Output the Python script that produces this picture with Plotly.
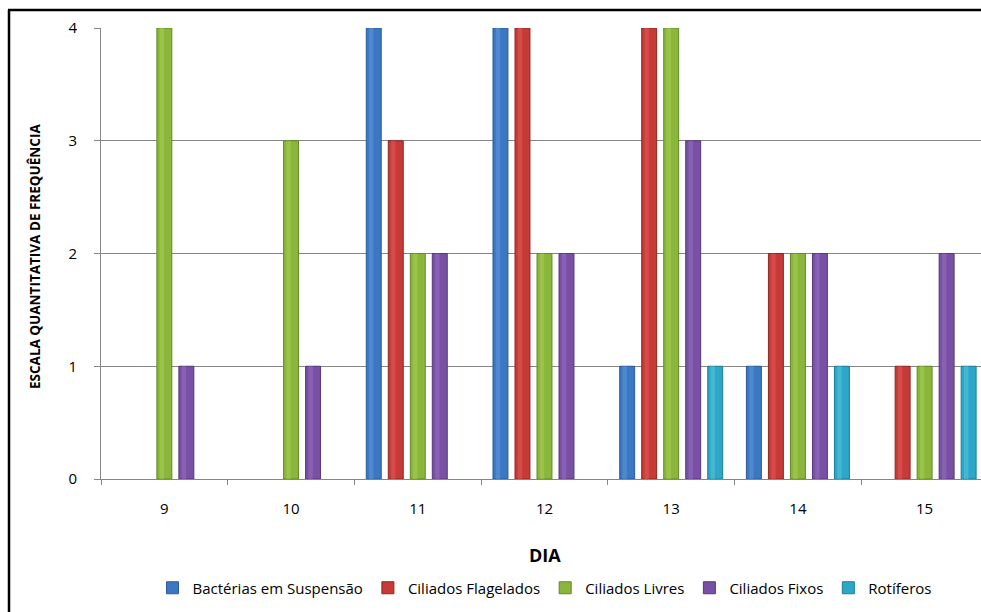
import plotly.graph_objects as go

dias = ["9", "10", "11", "12", "13", "14", "15"]
series_names = ["Bactérias em Suspensão", "Ciliados Flagelados", "Ciliados Livres", "Ciliados Fixos", "Rotíferos"]
bacterias = [0, 0, 4, 4, 1, 1, 0]
flagelados = [0, 0, 3, 4, 4, 2, 1]
livres = [4, 3, 2, 2, 4, 2, 1]
fixos = [1, 1, 2, 2, 3, 2, 2]
rotiferos = [0, 0, 0, 0, 1, 1, 1]
y_ticks = [0, 1, 2, 3, 4]

values = [bacterias, flagelados, livres, fixos, rotiferos]
colors = ["#3B77C2", "#C63A37", "#8AB63B", "#7850A4", "#2DA7C7"]
edges = ["#2A5C98", "#8E2624", "#648826", "#553979", "#1E7C95"]
lights = ["#5E98DD", "#E05A57", "#A8D055", "#9670C2", "#55C4E0"]

W, H = 981, 612
L, R, T, B = 101, 0, 28, 612 - 479
pw, ph = W - L - R, H - T - B

def px_x(x):
    return (x - L) / pw

def px_y(y):
    return (H - B - y) / ph

slot = 0.1737     # spacing between bar centres (category units)
bw = 0.118        # bar width
hw = 0.035        # highlight strip width

fig = go.Figure()
for i, (name, vals, c, e) in enumerate(zip(series_names, values, colors, edges)):
    centre = (i - 2) * slot
    fig.add_trace(go.Bar(
        x=dias, y=[v if v else None for v in vals], name=name,
        width=bw, offset=centre - bw / 2,
        marker=dict(color=c, line=dict(color=e, width=1)),
    ))
for i, (name, vals, lc) in enumerate(zip(series_names, values, lights)):
    centre = (i - 2) * slot
    fig.add_trace(go.Bar(
        x=dias, y=[v if v else None for v in vals], name=name,
        width=hw, offset=centre - bw / 2 + 0.022,
        marker=dict(color=lc, line=dict(width=0)), opacity=0.55,
        showlegend=False, hoverinfo="skip",
    ))

font = "Open Sans"
fig.update_layout(
    width=W, height=H,
    margin=dict(l=L, r=R, t=T, b=B),
    paper_bgcolor="white", plot_bgcolor="white",
    barmode="overlay",
    font=dict(family=font, color="#000000"),
    xaxis=dict(
        type="category", range=[-0.5, 6.445],
        showgrid=False, showline=True, linecolor="#868686", linewidth=1,
        ticks="outside", tickson="boundaries", ticklen=5, tickcolor="#868686",
        tickfont=dict(size=15, family=font), ticklabelstandoff=16,
    ),
    yaxis=dict(
        range=[0, 4], tickvals=y_ticks,
        showgrid=True, gridcolor="#868686", gridwidth=1,
        showline=True, linecolor="#868686", linewidth=1,
        ticks="outside", ticklen=6, tickcolor="#868686",
        tickfont=dict(size=15, family=font), ticklabelstandoff=14,
        zeroline=False,
    ),
    showlegend=True,
    legend=dict(
        orientation="h", x=px_x(545), xanchor="center",
        y=px_y(588), yanchor="middle",
        font=dict(size=15, family=font),
        itemwidth=30, traceorder="normal",
    ),
    annotations=[
        dict(text="<b>DIA</b>", x=px_x(545), y=px_y(555), xref="paper", yref="paper",
             showarrow=False, font=dict(size=18, family=font), xanchor="center", yanchor="middle"),
        dict(text="<b>ESCALA QUANTITATIVA DE FREQUÊNCIA</b>", x=px_x(35), y=px_y(257),
             xref="paper", yref="paper", showarrow=False, textangle=-90,
             font=dict(size=13.5, family=font), xanchor="center", yanchor="middle"),
    ],
    shapes=[
        dict(type="line", xref="paper", yref="paper", x0=px_x(9), x1=px_x(9),
             y0=px_y(615), y1=px_y(10), line=dict(color="black", width=2.5)),
        dict(type="line", xref="paper", yref="paper", x0=px_x(8), x1=px_x(990),
             y0=px_y(10), y1=px_y(10), line=dict(color="black", width=2.5)),
    ],
)

fig.write_html(
    "out.html",
    config={"displayModeBar": False},
    post_script="document.body.style.margin='0';document.body.style.overflow='hidden';",
)
